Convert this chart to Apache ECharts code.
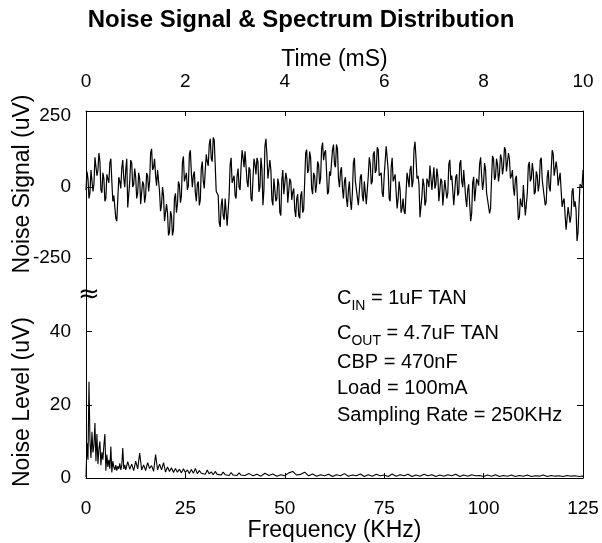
<!DOCTYPE html>
<html>
<head>
<meta charset="utf-8">
<script src="https://cdn.jsdelivr.net/npm/echarts@6/dist/echarts.min.js"></script>
<style>
html,body{margin:0;padding:0;background:#fff;}
#chart{width:602px;height:543px;}
</style>
</head>
<body>
<div id="chart"></div>
<script>
// ---------- DATA ----------
// Noise signal (uV): main samples every 0.04 mS (0..10 mS) and in-between samples at +0.02 mS
const signalStep = 0.04;
const signal_0_1 = [-10,30,-20,55,10,112,60,90,-20,30,-40,40,85,20,-30,-110,-40,20,68,30,60,-72,20,85,10];
const signal_1_2 = [35,-20,30,-57,10,-30,40,20,135,70,40,60,-17,-60,-30,-120,-90,-160,-100,-150,-22,-60,7,-30,108];
const signal_2_3 = [20,-10,115,50,40,-20,10,-64,68,20,60,90,150,100,175,78,-18,-125,-64,-100,-40,-136,-30,103,20];
const signal_3_4 = [-30,40,0,70,103,126,20,70,-40,30,80,103,-17,103,-64,144,114,36,60,-64,36,-40,10,-100,60];
const signal_4_5 = [-20,30,-50,20,-18,-80,-40,-100,-30,-90,20,132,60,103,-25,40,10,80,30,157,120,55,-17,40,132];
const signal_5_6 = [80,150,30,55,-5,20,-40,-10,-50,-20,103,20,-64,36,-30,20,-60,40,82,20,126,60,132,36,-20];
const signal_6_7 = [40,144,60,-50,103,20,-17,-40,-10,-75,-85,-17,30,60,0,132,103,40,-106,-30,7,-50,20,76,-10];
const signal_7_8 = [70,10,36,-50,20,-64,30,-20,96,40,-64,36,-30,82,20,60,-40,-10,-60,-93,36,-50,20,82,40];
const signal_8_9 = [20,60,-20,-93,30,100,36,80,50,100,70,132,60,100,40,-4,30,-40,-105,-60,7,-100,-20,89,30];
const signal_9_10 = [55,-17,40,10,103,30,-64,36,0,60,118,40,60,30,-10,-50,-100,-147,-64,-100,-4,-50,-190,-64,7,60];

const signalMid_0_1 = [55,-40,60,-15,105,40,120,-10,50,-50,45,15,100,-50,-25,-120,35,-5,95,0,100,-70,95,0,65];
const signalMid_1_2 = [-40,50,-60,20,-55,50,-15,120,60,100,5,65,-85,0,-120,-60,-170,-85,-170,-40,-90,20,-55,85,20];
const signalMid_2_3 = [50,5,130,0,55,-50,20,-45,90,-5,115,75,170,90,165,-15,-30,-140,-40,-115,-45,-130,80,15,40];
const signalMid_3_4 = [-40,65,-10,130,70,120,0,60,-50,100,45,90,0,65,-10,170,30,95,-45,30,-50,30,-90,25,-25];
const signalMid_4_5 = [50,-55,30,-45,-5,-105,-25,-110,-15,-80,120,50,125,-5,50,-20,90,10,135,95,130,-25,55,40,150];
const signalMid_5_6 = [70,135,0,70,-40,35,-70,20,-80,85,20,20,-60,45,-50,25,-55,105,10,115,50,140,40,50,-35];
const signalMid_6_7 = [45,145,-40,70,20,45,-75,20,-90,-40,-95,50,0,75,20,160,30,10,-110,30,-65,30,0,80,-15];
const signalMid_7_8 = [-5,65,-50,30,-65,25,-40,80,25,35,-60,45,-20,95,0,55,-70,10,-120,15,-50,30,5,105,-10];
const signalMid_8_9 = [85,-20,-15,-75,110,25,100,20,115,45,140,55,120,30,60,-30,40,-115,-40,-70,0,-100,75,20,85];
const signalMid_9_10 = [-25,55,-15,95,25,25,-55,60,-15,130,40,90,5,50,-70,-40,-150,-70,-125,-15,-70,-80,-160,10,0];

// Noise spectrum level (uV)
const specLowStart = 0, specLowStep = 0.25;   // 0 .. 10 KHz
const specLow = [0.3,9.5,5,26.3,10,5.5,12.6,7,9,15,4.6,12,3.8,8,10,3.5,7,5,9,12,2,6.4,3,5,2.5,8.6,1.5,4.6,3,2.2,3.5,2,3.2,2.5,4,2.2,3.5,8.2,2.5,3.6,2.2];
const specMidStart = 10.5, specMidStep = 0.5;  // 10.5 .. 40 KHz
const specMid = [4.5,2.4,3.8,2,4.6,2.5,6.8,2.2,3.6,2,4.2,2.6,3.4,1.8,6.4,2.2,3.8,2.2,4.2,1.6,3,1.8,2.8,1.5,2.6,1.6,2.4,1.4,2.5,1.5,2.2,1.2,2.3,1.3,2.6,1.2,2.0,1.3,1.8,1.0,2.2,1.1,1.7,0.9,1.8,1.0,1.5,0.8,1.6,0.9,1.4,0.7,1.5,0.8,1.3,0.7,1.4,0.8,1.2,0.7];
const specHighStart = 41, specHighStep = 1;    // 41 .. 125 KHz
const specHigh = [1.2,0.6,1.0,0.5,1.3,0.7,1.1,0.5,0.9,0.6,1.4,1.8,0.8,1.0,1.6,0.6,1.1,0.5,0.9,0.6,1.0,0.4,0.9,0.6,1.2,0.5,0.8,0.6,1.1,0.4,0.9,0.5,1.0,0.6,0.8,0.4,1.1,0.5,0.9,0.6,1.0,0.4,0.8,0.5,1.0,0.6,0.9,0.4,0.8,0.5,0.9,0.6,1.0,0.4,0.8,0.5,0.9,0.6,0.7,0.4,0.8,0.5,0.9,0.4,0.7,0.5,0.8,0.4,0.7,0.5,0.8,0.4,0.6,0.5,0.8,0.4,0.7,0.5,0.6,0.4,0.7,0.5,0.6,0.4,0.5];

// Axis ticks / labels
const timeTicks = {min:0, max:10, interval:2};
const freqTicks = {min:0, max:125, interval:25};
const signalLabels = [-250, 0, 250];
const levelLabels = [0, 20, 40];

// Annotation lines
const notes = [
  {main:'C', sub:'IN', rest:' = 1uF TAN'},
  {main:'C', sub:'OUT', rest:' = 4.7uF TAN'},
  {main:'CBP = 470nF', sub:'', rest:''},
  {main:'Load = 100mA', sub:'', rest:''},
  {main:'Sampling Rate = 250KHz', sub:'', rest:''}
];

// ---------- BUILD ----------
const signal = [].concat(signal_0_1,signal_1_2,signal_2_3,signal_3_4,signal_4_5,signal_5_6,signal_6_7,signal_7_8,signal_8_9,signal_9_10);
const signalMid = [].concat(signalMid_0_1,signalMid_1_2,signalMid_2_3,signalMid_3_4,signalMid_4_5,signalMid_5_6,signalMid_6_7,signalMid_7_8,signalMid_8_9,signalMid_9_10);
const signalData = [];
signal.forEach((v,i)=>{
  signalData.push([+(i*signalStep).toFixed(3), v]);
  if (i < signalMid.length) signalData.push([+(i*signalStep + signalStep/2).toFixed(3), signalMid[i]]);
});
const specData = []
  .concat(specLow.map((v,i)=>[specLowStart+i*specLowStep, v]))
  .concat(specMid.map((v,i)=>[specMidStart+i*specMidStep, v]))
  .concat(specHigh.map((v,i)=>[specHighStart+i*specHighStep, v]));

const FONT = 'Liberation Sans, Arial, Helvetica, sans-serif';
const black = '#000';
const lineStyle = {color:black, width:1};

const chart = echarts.init(document.getElementById('chart'), null, {renderer:'canvas'});

const noteY = [298, 333, 362, 388, 415];
const noteGraphics = notes.map((n,i)=>{
  const txt = n.sub ? (n.main + '{s|' + n.sub + '}' + n.rest) : n.main;
  return {
    type:'text', left:337, top:noteY[i]-12,
    style:{
      text: txt, fill: black, fontSize:20, fontFamily:FONT, lineHeight:24,
      rich:{ s:{fontSize:14, fontFamily:FONT, fill:black, verticalAlign:'bottom', lineHeight:14, padding:[0,0,-3,0]} }
    }
  };
});

const option = {
  animation:false,
  backgroundColor:'#fff',
  textStyle:{fontFamily:FONT, color:black},
  title:{
    text:'Noise Signal & Spectrum Distribution',
    left:'center', top:8, padding:0,
    textStyle:{fontSize:24, fontWeight:'bold', color:black, fontFamily:FONT}
  },
  grid:[
    {left:86, right:19, top:111, height:184},
    {left:86, right:19, top:295, height:183}
  ],
  xAxis:[
    {
      gridIndex:0, type:'value', position:'top',
      min:timeTicks.min, max:timeTicks.max, interval:timeTicks.interval,
      name:'Time (mS)', nameLocation:'middle', nameGap:40,
      nameTextStyle:{fontSize:23, color:black, fontFamily:FONT},
      axisLine:{show:true, onZero:false, lineStyle},
      axisTick:{show:true, inside:true, length:5, lineStyle},
      axisLabel:{fontSize:19, color:black, margin:20, fontFamily:FONT},
      splitLine:{show:false}
    },
    {
      gridIndex:1, type:'value', position:'bottom',
      min:freqTicks.min, max:freqTicks.max, interval:freqTicks.interval,
      name:'Frequency (KHz)', nameLocation:'middle', nameGap:38,
      nameTextStyle:{fontSize:23, color:black, fontFamily:FONT},
      axisLine:{show:true, onZero:false, lineStyle},
      axisTick:{show:true, inside:true, length:5, lineStyle},
      axisLabel:{fontSize:19, color:black, margin:21, fontFamily:FONT},
      splitLine:{show:false}
    }
  ],
  yAxis:[
    {
      gridIndex:0, type:'value', position:'left', min:-380, max:268,
      axisLine:{show:true, onZero:false, lineStyle},
      axisTick:{show:true, inside:true, length:6, lineStyle, customValues:[-250, 0]},
      axisLabel:{fontSize:19, color:black, margin:15, fontFamily:FONT, customValues:signalLabels},
      splitLine:{show:false}
    },
    {
      gridIndex:0, type:'value', position:'right', min:-380, max:268,
      axisLine:{show:true, onZero:false, lineStyle},
      axisTick:{show:true, inside:true, length:6, lineStyle, customValues:[-250, 0]},
      axisLabel:{show:false},
      splitLine:{show:false}
    },
    {
      gridIndex:1, type:'value', position:'left', min:0, max:50,
      axisLine:{show:true, onZero:false, lineStyle},
      axisTick:{show:true, inside:true, length:6, lineStyle, customValues:[20, 40]},
      axisLabel:{fontSize:19, color:black, margin:15, fontFamily:FONT, customValues:levelLabels},
      splitLine:{show:false}
    },
    {
      gridIndex:1, type:'value', position:'right', min:0, max:50,
      axisLine:{show:true, onZero:false, lineStyle},
      axisTick:{show:true, inside:true, length:6, lineStyle, customValues:[20, 40]},
      axisLabel:{show:false},
      splitLine:{show:false}
    }
  ],
  series:[
    {
      type:'line', xAxisIndex:0, yAxisIndex:0, data:signalData, sampling:false,
      showSymbol:false, symbol:'none', lineStyle:{color:black, width:1.2}, silent:true
    },
    {
      type:'line', xAxisIndex:1, yAxisIndex:2, data:specData,
      showSymbol:false, symbol:'none', lineStyle:{color:black, width:1.1}, silent:true
    }
  ],
  graphic:[
    {
      type:'text', x:23, y:184, rotation:Math.PI/2,
      style:{text:'Noise Signal (uV)', fill:black, fontSize:23, fontFamily:FONT, align:'center', verticalAlign:'middle'}
    },
    {
      type:'text', x:23, y:402, rotation:Math.PI/2,
      style:{text:'Noise Level (uV)', fill:black, fontSize:23, fontFamily:FONT, align:'center', verticalAlign:'middle'}
    },
    {
      type:'text', x:89, y:295,
      style:{text:'≈', fill:black, fontSize:26, fontFamily:'DejaVu Sans', align:'center', verticalAlign:'middle'}
    }
  ].concat(noteGraphics)
};
chart.setOption(option);
</script>
</body>
</html>
